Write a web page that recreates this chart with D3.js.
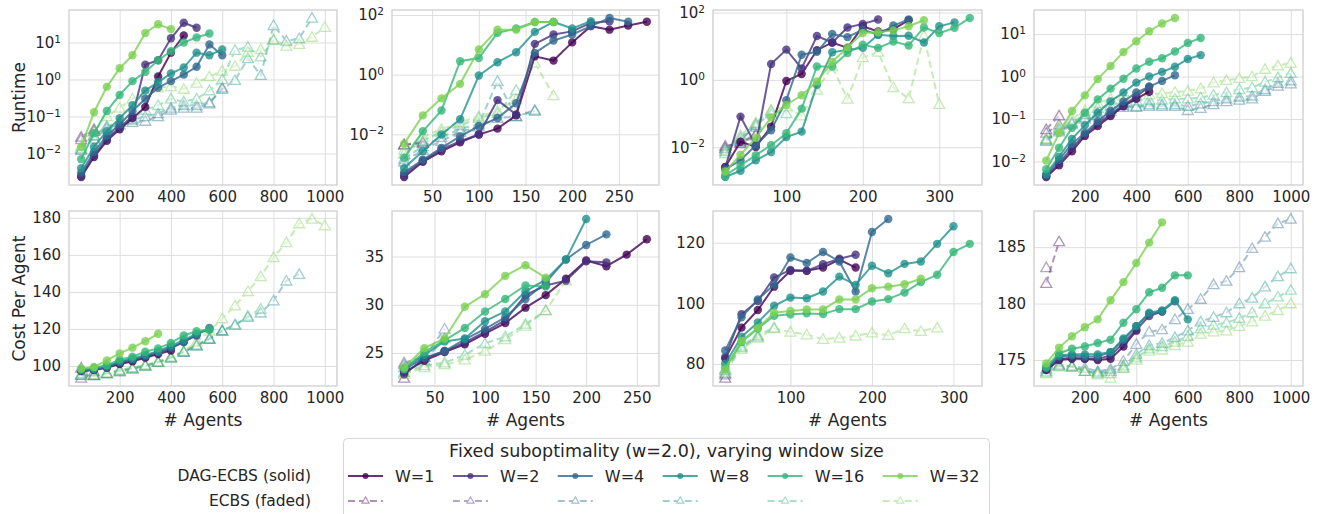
<!DOCTYPE html>
<html>
<head>
<meta charset="utf-8">
<script src="https://cdn.jsdelivr.net/npm/d3@7"></script>
<style>
  body { margin: 0; background: #fff; }
  svg text { font-family: "DejaVu Sans", sans-serif; fill: #262626; }
</style>
</head>
<body>
<svg id="chart" width="1322" height="514"></svg>
<script>
// window sizes (one series per window, DAG-ECBS solid + ECBS faded)
const windowLabels = ['W=1', 'W=2', 'W=4', 'W=8', 'W=16', 'W=32'];

const agentsLarge = [50, 100, 150, 200, 250, 300, 350, 400, 450, 500, 550, 600, 650, 700, 750, 800, 850, 900, 950, 1000];
const agentsSmall = [20, 40, 60, 80, 100, 120, 140, 160, 180, 200, 220, 240, 260, 280, 300, 320, 340];

// ---- runtime, map A ----
const runtimeDagA = [
  [0.0023, 0.008, 0.022, 0.045, 0.09, 0.18, 1.2, 5.3, 15.5],
  [0.0025, 0.009, 0.025, 0.05, 0.1, 2.5, 3.3, 13, 34, 25],
  [0.003, 0.011, 0.03, 0.06, 0.14, 0.3, 0.6, 0.9, 1.35, 2.2, 8.8, 4.5],
  [0.004, 0.015, 0.04, 0.09, 0.2, 0.5, 0.85, 1.45, 2.1, 5.3, 4.5, 6.5],
  [0.007, 0.035, 0.14, 0.38, 0.9, 1.6, 3.3, 5.8, 10, 13.7, 17.5],
  [0.015, 0.13, 0.63, 2.0, 4.5, 18, 31, 23]
];
const runtimeEcbsA = [
  [0.028, 0.045],
  [0.024, 0.04],
  [0.012, 0.025, 0.045, 0.06, 0.07, 0.075, 0.1, 0.15, 0.17, 0.17, 0.22, 0.6],
  [0.013, 0.03, 0.055, 0.07, 0.08, 0.1, 0.12, 0.17, 0.2, 0.2, 0.24, 0.55, 0.95, 3.7, 1.3, 29, 11, 12.8, 46],
  [0.014, 0.03, 0.05, 0.07, 0.085, 0.15, 0.2, 0.3, 0.25, 0.3, 0.5, 1.0, 6.2, 7.6, 4.1, 11.6],
  [0.016, 0.04, 0.1, 0.17, 0.3, 0.45, 0.6, 0.65, 0.55, 0.8, 1.2, 1.7, 2.3, 5.5, 6.5, 12, 8, 9, 14, 26]
];

// ---- runtime, map B ----
const runtimeDagB = [
  [0.00037, 0.0012, 0.0027, 0.0054, 0.0098, 0.0155, 0.043, 4.1, 2.95, 12, 42, 32, 44, 59],
  [0.00045, 0.0013, 0.0031, 0.0059, 0.0098, 0.14, 0.046, 10.7, 22, 28, 54, 61],
  [0.00053, 0.0014, 0.0035, 0.0085, 0.0186, 0.035, 0.11, 5.3, 13.8, 22, 42, 79, 59],
  [0.00074, 0.0027, 0.0098, 0.032, 0.93, 2.6, 5.6, 27, 58, 35, 61],
  [0.0016, 0.0126, 0.063, 2.8, 3.6, 25, 35, 58, 58],
  [0.0048, 0.043, 0.16, 0.49, 6.9, 32, 32, 58, 58]
];
const runtimeEcbsB = [
  [0.0045, 0.005],
  [0.0045, 0.0055],
  [0.0012, 0.003, 0.006, 0.012, 0.018, 0.035, 0.04, 0.065],
  [0.0015, 0.004, 0.008, 0.015, 0.022, 0.6, 0.04, 0.06],
  [0.0022, 0.006, 0.012, 0.02, 0.035, 0.05, 0.3],
  [0.003, 0.008, 0.015, 0.025, 0.04, 0.06, 0.15, 2.5, 0.2]
];

// ---- runtime, map C ----
const runtimeDagC = [
  [0.0026, 0.0145, 0.0102, 0.041, 0.93, 1.5, 7.6, 12.9, 8.9, 39, 27.5, 32, 59],
  [0.0025, 0.081, 0.0115, 2.95, 7.9, 2.2, 20, 12.9, 36, 46, 62],
  [0.0022, 0.0041, 0.0115, 0.032, 0.25, 5.6, 6.8, 23, 18.6, 31, 22, 41, 62],
  [0.0013, 0.002, 0.0041, 0.0072, 0.02, 0.029, 0.71, 6.6, 7.9, 8.9, 22, 20, 20.4, 12.9, 39, 51],
  [0.00145, 0.0029, 0.0058, 0.0115, 0.026, 0.14, 2.5, 2.5, 6.3, 11, 8.9, 13.8, 10.5, 36, 24.5, 35, 69],
  [0.0019, 0.006, 0.019, 0.076, 0.18, 0.35, 0.89, 3.4, 9.3, 24.5, 26, 29.5, 39, 59]
];
const runtimeEcbsC = [
  [0.011, 0.013, 0.022],
  [0.0095, 0.014, 0.025],
  [0.009, 0.018, 0.04],
  [0.0075, 0.015, 0.045, 0.1],
  [0.0065, 0.02, 0.05, 0.12, 0.1],
  [0.008, 0.023, 0.053, 0.127, 0.16, 0.086, 0.5, 2.5, 0.27, 4.6, 6.7, 0.6, 0.28, 20, 0.19]
];

// ---- runtime, map D ----
const runtimeDagD = [
  [0.0043, 0.0081, 0.0174, 0.04, 0.068, 0.117, 0.2, 0.3, 0.44],
  [0.0045, 0.0091, 0.021, 0.043, 0.078, 0.129, 0.21, 0.34, 0.58],
  [0.0047, 0.011, 0.026, 0.047, 0.089, 0.155, 0.26, 0.42, 0.58, 0.79, 1.07],
  [0.0051, 0.013, 0.034, 0.071, 0.14, 0.26, 0.42, 0.72, 1.0, 1.29, 1.7, 2.6, 3.2],
  [0.0066, 0.021, 0.062, 0.14, 0.29, 0.52, 0.89, 1.55, 2.24, 2.7, 3.9, 6.2, 8.1],
  [0.0105, 0.047, 0.155, 0.36, 0.87, 1.78, 3.8, 6.8, 11.7, 17.8, 24]
];
const runtimeEcbsD = [
  [0.057, 0.12],
  [0.047, 0.074],
  [0.03, 0.05, 0.075, 0.1, 0.12, 0.15, 0.19, 0.19, 0.2, 0.2, 0.2, 0.16, 0.18, 0.22, 0.26, 0.28, 0.3, 0.45, 0.6, 0.68],
  [0.032, 0.055, 0.08, 0.11, 0.14, 0.17, 0.21, 0.2, 0.22, 0.22, 0.22, 0.2, 0.23, 0.26, 0.3, 0.33, 0.35, 0.5, 0.7, 0.8],
  [0.033, 0.06, 0.085, 0.13, 0.18, 0.21, 0.25, 0.27, 0.28, 0.28, 0.3, 0.3, 0.32, 0.37, 0.42, 0.5, 0.55, 0.75, 0.95, 1.2],
  [0.035, 0.065, 0.1, 0.16, 0.24, 0.3, 0.35, 0.36, 0.38, 0.4, 0.43, 0.46, 0.52, 0.72, 0.82, 0.91, 1.0, 1.5, 1.8, 2.1]
];

// ---- cost per agent ----
const costDagA = [
  [97.3, 97.8, 99, 101, 102.5, 104.5, 106.5, 108.3],
  [97.5, 98, 99.5, 101.5, 103, 105, 107, 109.5, 113, 116.5],
  [97.5, 98, 99.5, 102, 103.5, 105.5, 107.5, 110, 113, 117, 120.5],
  [97.8, 98.5, 100, 102.5, 104, 106, 108, 111, 114, 117.5, 119.5],
  [98.2, 99.1, 100.4, 103.4, 105, 107.7, 109.5, 112.5, 116.5, 118.8, 119.7],
  [98.7, 99.5, 103, 106.8, 109.9, 113.4, 117.4]
];
const costEcbsA = [
  [99, 97],
  [93.5, 95],
  [95.5, 95, 96, 97, 98.5, 100, 102, 104.5, 107.5, 111, 114.5, 119],
  [95, 94.8, 96, 97.5, 98.5, 100, 102, 104.5, 107.5, 111, 114.5, 119.2, 122.4, 126.3, 128.7, 135.3, 146, 149.6],
  [95, 95, 96, 97.5, 99, 100.5, 102.5, 105, 108, 111.5, 115, 119, 122, 127, 130.8],
  [96, 95.5, 96.5, 98, 99, 100.5, 102, 104.5, 108, 113, 119, 125.6, 132.6, 140.3, 148.4, 158.6, 166.7, 176.9, 179.4, 175.8]
];

const costDagB = [
  [23.0, 24.2, 25.1, 25.9, 27.0, 28.1, 29.7, 31.0, 32.7, 34.6, 34.0, 35.2, 36.8],
  [22.8, 24.4, 25.2, 26.1, 27.2, 28.4, 31.0, 32.0, 32.5, 34.5, 34.4],
  [23.3, 24.5, 25.2, 26.4, 27.5, 28.7, 30.6, 32.3, 34.7, 36.2, 37.3],
  [23.4, 24.8, 26.2, 26.5, 28.3, 29.3, 31.4, 32.6, 34.7, 38.9],
  [23.3, 25.1, 26.3, 27.6, 29.3, 30.6, 32.0, 31.9],
  [23.5, 25.5, 26.5, 29.8, 31.1, 33.0, 34.1, 32.8]
];
const costEcbsB = [
  [22.4],
  [24.0, 24.6],
  [23.8, 24.6, 27.5],
  [23.5, 24.2, 26.5],
  [23.0, 23.7, 24.0, 24.8, 26.0, 26.7, 28.0, 29.4],
  [22.8, 23.5, 23.8, 24.3, 25.2, 26.4, 27.8, 29.4, 32.5]
];

const costDagC = [
  [81.8, 92.0, 97.8, 105.5, 110.7, 110.7, 111.8, 114.4, 111.8],
  [82.3, 96.4, 100.8, 108.5, 111.0, 110.7, 112.9, 114.7, 116.0],
  [84.5, 95.4, 101.3, 106.1, 115.1, 113.3, 116.9, 113.8, 103.9, 123.5, 127.8],
  [80.1, 89.0, 93.7, 99.2, 101.9, 101.7, 103.9, 108.8, 106.1, 112.4, 109.9, 113.0, 113.8, 119.6, 125.4],
  [78.7, 87.3, 91.7, 95.9, 96.4, 96.7, 96.5, 98.1, 98.1, 100.6, 101.4, 103.6, 107.0, 109.4, 116.9, 119.6],
  [78.2, 87.6, 91.9, 96.9, 97.5, 98.0, 98.0, 101.3, 101.3, 105.0, 105.5, 106.3, 108.1]
];
const costEcbsC = [
  [75.4],
  [76.5],
  [77.0],
  [78.0, 85.5, 89.0],
  [78.5, 86.0, 89.5, 92.0],
  [77.4, 84.9, 88.6, 91.7, 90.6, 89.7, 88.2, 88.6, 89.3, 90.3, 89.5, 91.7, 90.8, 92.0]
];

const costDagD = [
  [174.1, 175.0, 175.1, 175.1, 175.0, 175.1, 176.2, 177.6],
  [174.2, 175.1, 175.2, 175.1, 175.1, 175.4, 176.5, 177.7, 178.9, 179.3],
  [174.3, 175.3, 175.4, 175.3, 175.3, 175.7, 176.8, 178.0, 179.1, 179.3, 180.2],
  [174.3, 175.4, 175.5, 175.5, 175.5, 175.7, 176.9, 178.0, 179.2, 179.4, 180.3, 178.6],
  [174.4, 175.6, 176.0, 176.2, 176.5, 176.8, 178.3, 179.5, 181.0, 181.4, 182.5, 182.5],
  [174.7, 176.1, 177.1, 177.9, 178.6, 180.3, 181.9, 183.6, 185.4, 187.2]
];
const costEcbsD = [
  [181.8, 185.5],
  [183.2],
  [174.2, 174.6, 174.4, 174.3, 174.0, 174.2, 174.9, 176.4, 177.5, 177.7, 178.6, 179.5, 180.4, 181.7, 182.0, 183.2, 184.9, 185.9, 187.1, 187.5],
  [174.0, 174.5, 174.5, 174.0, 173.9, 174.0, 174.5, 175.5, 176.3, 176.5, 177.0, 177.6, 178.4, 178.8, 179.2, 180.0, 180.5, 181.5, 182.4, 183.1],
  [173.9, 174.5, 174.4, 174.0, 173.8, 173.8, 174.3, 175.2, 176.0, 176.2, 176.6, 177.1, 177.8, 178.1, 178.3, 178.7, 179.2, 180.0, 180.6, 181.2],
  [173.8, 174.4, 174.4, 174.0, 173.7, 173.4, 174.3, 175.0, 175.8, 175.9, 176.3, 176.6, 177.3, 177.5, 177.6, 178.0, 178.4, 178.9, 179.4, 180.0]
];

// tick values
const xTicksLarge = [200, 400, 600, 800, 1000];
const xTicksB = [50, 100, 150, 200, 250];
const xTicksC = [100, 200, 300];
const runtimeTicksAD = [1e-2, 1e-1, 1, 10];
const runtimeTicksBC = [1e-2, 1, 100];
const costTicksA = [100, 120, 140, 160, 180];
const costTicksB = [25, 30, 35];
const costTicksC = [80, 100, 120];
const costTicksD = [175, 180, 185];

// ---- layout / style ----
const palette = ['#440154', '#46327e', '#31688e', '#21918c', '#35b779', '#7ad151'];
const colLeft = [69, 392, 713, 1034];
const colWidth = [268, 267, 269, 269];
const rowTop = [10, 211];
const panelHeight = 175;
const gridColor = '#dedede';
const tickFont = 15;

const svg = d3.select('#chart');

const panels = [
  {row: 0, col: 0, agents: agentsLarge, dag: runtimeDagA, ecbs: runtimeEcbsA, log: true, xTicks: xTicksLarge, yTicks: runtimeTicksAD},
  {row: 0, col: 1, agents: agentsSmall, dag: runtimeDagB, ecbs: runtimeEcbsB, log: true, xTicks: xTicksB, yTicks: runtimeTicksBC},
  {row: 0, col: 2, agents: agentsSmall, dag: runtimeDagC, ecbs: runtimeEcbsC, log: true, xTicks: xTicksC, yTicks: runtimeTicksBC},
  {row: 0, col: 3, agents: agentsLarge, dag: runtimeDagD, ecbs: runtimeEcbsD, log: true, xTicks: xTicksLarge, yTicks: runtimeTicksAD},
  {row: 1, col: 0, agents: agentsLarge, dag: costDagA, ecbs: costEcbsA, log: false, xTicks: xTicksLarge, yTicks: costTicksA},
  {row: 1, col: 1, agents: agentsSmall, dag: costDagB, ecbs: costEcbsB, log: false, xTicks: xTicksB, yTicks: costTicksB},
  {row: 1, col: 2, agents: agentsSmall, dag: costDagC, ecbs: costEcbsC, log: false, xTicks: xTicksC, yTicks: costTicksC},
  {row: 1, col: 3, agents: agentsLarge, dag: costDagD, ecbs: costEcbsD, log: false, xTicks: xTicksLarge, yTicks: costTicksD}
];

function drawPanel(p){
  const width = colWidth[p.col];
  const g = svg.append('g')
    .attr('transform', `translate(${colLeft[p.col]},${rowTop[p.row]})`);

  const allSeries = p.dag.concat(p.ecbs);
  const n = d3.max(allSeries, s => s.length);
  const xs = p.agents.slice(0, n);
  const xPad = (d3.max(xs) - d3.min(xs)) * 0.05;
  const x = d3.scaleLinear()
    .domain([d3.min(xs) - xPad, d3.max(xs) + xPad])
    .range([0, width]);

  const vals = allSeries.flat();
  let y;
  if(p.log){
    const lo = Math.log10(d3.min(vals)), hi = Math.log10(d3.max(vals));
    const pad = (hi - lo) * 0.05;
    y = d3.scaleLog().domain([10 ** (lo - pad), 10 ** (hi + pad)]).range([panelHeight, 0]);
  } else {
    const lo = d3.min(vals), hi = d3.max(vals);
    const pad = (hi - lo) * 0.05;
    y = d3.scaleLinear().domain([lo - pad, hi + pad]).range([panelHeight, 0]);
  }

  const xAxis = g.append('g')
    .attr('transform', `translate(0,${panelHeight})`)
    .call(d3.axisBottom(x).tickValues(p.xTicks).tickSize(-panelHeight).tickPadding(6).tickFormat(d3.format('d')))
    .attr('font-size', tickFont);
  xAxis.select('.domain').remove();
  xAxis.selectAll('line').attr('stroke', gridColor).attr('stroke-width', 1);

  const yAxis = g.append('g')
    .call(d3.axisLeft(y).tickValues(p.yTicks).tickSize(-width).tickPadding(8).tickFormat(d => p.log ? '10' : d))
    .attr('font-size', tickFont);
  yAxis.select('.domain').remove();
  yAxis.selectAll('line').attr('stroke', gridColor).attr('stroke-width', 1);
  if(p.log){
    yAxis.selectAll('.tick text').each(function(d){
      const e = String(Math.round(Math.log10(d))).replace('-', '\u2212');
      d3.select(this).append('tspan')
        .attr('dy', '-0.5em')
        .attr('font-size', 10.5)
        .text(e);
    });
  }

  g.append('rect')
    .attr('width', width)
    .attr('height', panelHeight)
    .attr('fill', 'none')
    .attr('stroke', '#cccccc')
    .attr('stroke-width', 1.25);

  const line = d3.line()
    .x(d => x(d[0]))
    .y(d => y(d[1]));

  // ECBS (faded, dashed, triangles)
  p.ecbs.forEach((s, i) => {
    const pts = s.map((v, j) => [p.agents[j], v]);
    const sg = g.append('g').attr('opacity', 0.42);
    sg.append('path')
      .datum(pts)
      .attr('d', line)
      .attr('fill', 'none')
      .attr('stroke', palette[i])
      .attr('stroke-width', 2)
      .attr('stroke-dasharray', '7,4');
    sg.selectAll('path.tri')
      .data(pts)
      .enter().append('path')
      .attr('class', 'tri')
      .attr('transform', d => `translate(${x(d[0])},${y(d[1]) + 1})`)
      .attr('d', d3.symbol().type(d3.symbolTriangle).size(52))
      .attr('fill', 'white')
      .attr('fill-opacity', 0.5)
      .attr('stroke', palette[i])
      .attr('stroke-width', 1.3);
  });

  // DAG-ECBS (solid, circles)
  p.dag.forEach((s, i) => {
    const pts = s.map((v, j) => [p.agents[j], v]);
    g.append('path')
      .datum(pts)
      .attr('d', line)
      .attr('fill', 'none')
      .attr('stroke', palette[i])
      .attr('stroke-opacity', 0.8)
      .attr('stroke-width', 2);
    g.selectAll(null)
      .data(pts)
      .enter().append('circle')
      .attr('cx', d => x(d[0]))
      .attr('cy', d => y(d[1]))
      .attr('r', 4.2)
      .attr('fill', palette[i])
      .attr('fill-opacity', 0.8);
  });

  if(p.row === 1){
    g.append('text')
      .attr('x', width / 2)
      .attr('y', panelHeight + 40)
      .attr('text-anchor', 'middle')
      .attr('font-size', 17)
      .text('# Agents');
  }
}

panels.forEach(drawPanel);

// y axis titles
[['Runtime', rowTop[0]], ['Cost Per Agent', rowTop[1]]].forEach(([t, top]) => {
  svg.append('text')
    .attr('transform', `translate(25,${top + panelHeight / 2}) rotate(-90)`)
    .attr('text-anchor', 'middle')
    .attr('font-size', 17)
    .text(t);
});

// legend
const legend = svg.append('g');
legend.append('rect')
  .attr('x', 343.5).attr('y', 438.5)
  .attr('width', 646).attr('height', 100)
  .attr('rx', 4)
  .attr('fill', 'white')
  .attr('stroke', '#d6d6d6');
legend.append('text')
  .attr('x', 666.5).attr('y', 451).attr('dy', '0.35em')
  .attr('text-anchor', 'middle')
  .attr('font-size', 17.5)
  .text('Fixed suboptimality (w=2.0), varying window size');

const rowSolid = 476, rowFaded = 501;
legend.append('text')
  .attr('x', 311).attr('y', rowSolid).attr('dy', '0.35em')
  .attr('text-anchor', 'end').attr('font-size', 15.5)
  .text('DAG-ECBS (solid)');
legend.append('text')
  .attr('x', 311).attr('y', rowFaded).attr('dy', '0.35em')
  .attr('text-anchor', 'end').attr('font-size', 15.5)
  .text('ECBS (faded)');

let hx = 348;
windowLabels.forEach((lab, i) => {
  legend.append('line')
    .attr('x1', hx).attr('x2', hx + 35)
    .attr('y1', rowSolid).attr('y2', rowSolid)
    .attr('stroke', palette[i]).attr('stroke-opacity', 0.8).attr('stroke-width', 2);
  legend.append('circle')
    .attr('cx', hx + 17.5).attr('cy', rowSolid).attr('r', 3)
    .attr('fill', palette[i]).attr('fill-opacity', 0.8);

  const fg = legend.append('g').attr('opacity', 0.42);
  fg.append('line')
    .attr('x1', hx).attr('x2', hx + 35)
    .attr('y1', rowFaded).attr('y2', rowFaded)
    .attr('stroke', palette[i]).attr('stroke-width', 2)
    .attr('stroke-dasharray', '7,4');
  fg.append('path')
    .attr('transform', `translate(${hx + 17.5},${rowFaded})`)
    .attr('d', d3.symbol().type(d3.symbolTriangle).size(22))
    .attr('fill', 'white')
    .attr('stroke', palette[i]).attr('stroke-width', 1.2);

  const t = legend.append('text')
    .attr('x', hx + 47).attr('y', rowSolid).attr('dy', '0.35em')
    .attr('font-size', 16)
    .text(lab);
  hx = hx + 47 + t.node().getComputedTextLength() + 18.5;
});
</script>
</body>
</html>
